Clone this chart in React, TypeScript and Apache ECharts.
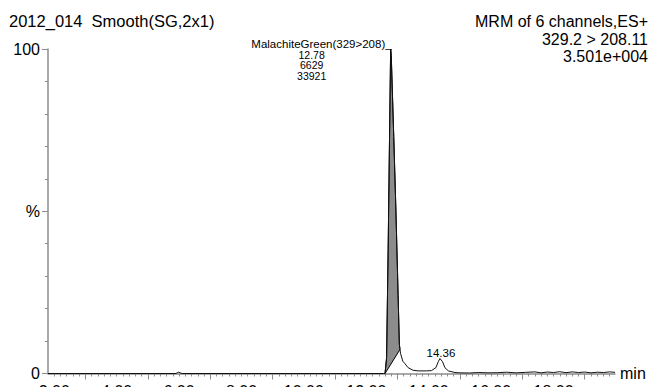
import React, { useEffect, useRef } from 'react';
import * as echarts from 'echarts';

const titleLeft = '2012_014  Smooth(SG,2x1)';
const headerRight = ['MRM of 6 channels,ES+', '329.2 > 208.11', '3.501e+004'];
const compoundLabel = 'MalachiteGreen(329>208)_';
const peakInfo = ['12.78', '6629', '33921'];
const peakRT = 12.78;
const minorPeakRT = 14.36;
const minorPeakLabel = '14.36';
const integStart = 12.6;
const integEnd = 13.08;

const retentionTimes = [
  1.8, 5.9, 5.96, 5.99, 6.03, 6.1, 12.55, 12.6, 12.65, 12.7, 12.74, 12.78, 12.8, 12.88,
  12.95, 13.02, 13.06, 13.08, 13.1, 13.17, 13.24, 13.34, 13.5, 13.66, 13.93, 14.09, 14.23,
  14.31, 14.36, 14.44, 14.52, 14.63, 14.84, 15.0, 15.3, 15.6, 15.9, 16.2, 16.5, 16.8, 17.1,
  17.4, 17.6, 17.8, 18.0, 18.2, 18.4, 18.6, 18.8, 19.0, 19.2, 19.4, 19.6, 19.8, 19.97,
];
const intensities = [
  0, 0, 0.3, 0.4, 0.2, 0, 0, 0, 4.8, 38, 69, 100, 98, 73, 50, 24, 9, 7.4, 6.1, 3.8, 3.0,
  1.8, 1.0, 0.8, 0.8, 0.9, 1.8, 3.7, 4.6, 3.7, 1.8, 0.8, 0.3, 0.2, 0.15, 0.3, 0.2, 0.25,
  0.4, 0.2, 0.35, 0.5, 0.2, 0.45, 0.3, 0.55, 0.25, 0.5, 0.3, 0.45, 0.2, 0.4, 0.3, 0.5, 0.35,
];

const xMin = 1.8;
const xMax = 19.97;
const xLabelValues = [2, 4, 6, 8, 10, 12, 14, 16, 18];
const xMajorTicks = [3, 5, 7, 9, 11, 13, 15, 17, 19];
const yLabelValues = [0, 50, 100];
const yMinorTicks = [10, 20, 30, 40, 60, 70, 80, 90];

const FONT = "'Liberation Sans', Arial, sans-serif";
const AXIS_GRAY = '#8c8c8c';

function txt(text: string, x: number, y: number, size: number, align: string) {
  return {
    type: 'text',
    x,
    y,
    silent: true,
    style: {
      text,
      fill: '#000',
      fontSize: size,
      fontFamily: FONT,
      align,
      textAlign: align,
      verticalAlign: 'middle',
      textVerticalAlign: 'middle',
    },
  };
}

export default function App() {
  const ref = useRef<HTMLDivElement>(null);
  useEffect(() => {
    const el = ref.current;
    if (!el) return;
    const chart = echarts.init(el, undefined, { renderer: 'svg' });

    const xMinorTicks: number[] = [];
    for (let i = 10; i <= 99; i++) xMinorTicks.push(Math.round(i * 2) / 10);

    const lineData = retentionTimes.map((t, i) => [t, intensities[i]]);
    const fillPts = lineData.filter((p) => p[0] >= integStart - 1e-9 && p[0] <= integEnd + 1e-9);

    const option: any = {
      animation: false,
      backgroundColor: '#ffffff',
      grid: { left: 48, right: 39, top: 49, bottom: 13.5, outerBoundsMode: 'none' },
      xAxis: [
        {
          type: 'value',
          min: xMin,
          max: xMax,
          position: 'bottom',
          axisLine: { show: true, onZero: false, lineStyle: { color: AXIS_GRAY, width: 1.5 } },
          axisTick: { show: true, customValues: xMinorTicks, length: 3, lineStyle: { color: AXIS_GRAY, width: 1 } },
          axisLabel: {
            show: true,
            customValues: xLabelValues,
            formatter: (v: number) => v.toFixed(2),
            fontSize: 16,
            fontFamily: FONT,
            color: '#000',
            margin: 10,
          },
          splitLine: { show: false },
          name: 'min',
          nameLocation: 'end',
          nameGap: 5,
          nameTextStyle: { fontSize: 16, fontFamily: FONT, color: '#000', verticalAlign: 'middle' },
        },
        {
          type: 'value',
          min: xMin,
          max: xMax,
          position: 'bottom',
          offset: 0,
          axisLine: { show: false },
          axisTick: { show: true, customValues: xMajorTicks, length: 6, lineStyle: { color: AXIS_GRAY, width: 1 } },
          axisLabel: { show: false },
          splitLine: { show: false },
        },
      ],
      yAxis: [
        {
          type: 'value',
          min: 0,
          max: 100,
          position: 'left',
          axisLine: { show: true, onZero: false, lineStyle: { color: AXIS_GRAY, width: 1.5 } },
          axisTick: { show: true, customValues: yMinorTicks, length: 3, lineStyle: { color: AXIS_GRAY, width: 1 } },
          axisLabel: {
            show: true,
            customValues: yLabelValues,
            formatter: (v: number) => (v === 50 ? '%' : String(v)),
            fontSize: 16,
            fontFamily: FONT,
            color: '#000',
            margin: 8,
          },
          splitLine: { show: false },
        },
        {
          type: 'value',
          min: 0,
          max: 100,
          position: 'left',
          offset: 0,
          axisLine: { show: false },
          axisTick: { show: true, customValues: yLabelValues, length: 6, lineStyle: { color: AXIS_GRAY, width: 1 } },
          axisLabel: { show: false },
          splitLine: { show: false },
        },
      ],
      series: [
        {
          type: 'custom',
          xAxisIndex: 0,
          yAxisIndex: 0,
          silent: true,
          z: 2,
          data: [[peakRT, 100]],
          renderItem: (_params: any, api: any) => ({
            type: 'polygon',
            shape: { points: fillPts.map((p) => api.coord(p)) },
            style: { fill: '#8c8c8c', stroke: '#000', lineWidth: 1 },
          }),
        },
        {
          type: 'line',
          xAxisIndex: 0,
          yAxisIndex: 0,
          data: lineData,
          showSymbol: false,
          symbol: 'none',
          silent: true,
          z: 3,
          lineStyle: { color: '#111', width: 1 },
        },
      ],
    };
    chart.setOption(option);

    const pk = chart.convertToPixel({ xAxisIndex: 0, yAxisIndex: 0 }, [peakRT, 100]) as number[];
    const mIdx = retentionTimes.indexOf(minorPeakRT);
    const pk2 = chart.convertToPixel({ xAxisIndex: 0, yAxisIndex: 0 }, [minorPeakRT, intensities[mIdx]]) as number[];

    chart.setOption({
      graphic: [
        txt(titleLeft, 9, 21, 16.5, 'left'),
        txt(headerRight[0], 648, 21, 16, 'right'),
        txt(headerRight[1], 648, 39, 16, 'right'),
        txt(headerRight[2], 648, 56, 16, 'right'),
        txt(compoundLabel, pk[0] + 1, pk[1] - 5.2, 11.5, 'right'),
        txt(peakInfo[0], pk[0] - 79, pk[1] + 5.8, 10.5, 'center'),
        txt(peakInfo[1], pk[0] - 79, pk[1] + 16.2, 10.5, 'center'),
        txt(peakInfo[2], pk[0] - 79, pk[1] + 26.5, 10.5, 'center'),
        txt(minorPeakLabel, pk2[0] + 1, pk2[1] - 6, 11.5, 'center'),
      ],
    });

    return () => chart.dispose();
  }, []);

  return <div ref={ref} style={{ position: 'absolute', left: 0, top: 0, width: 654, height: 387 }} />;
}
